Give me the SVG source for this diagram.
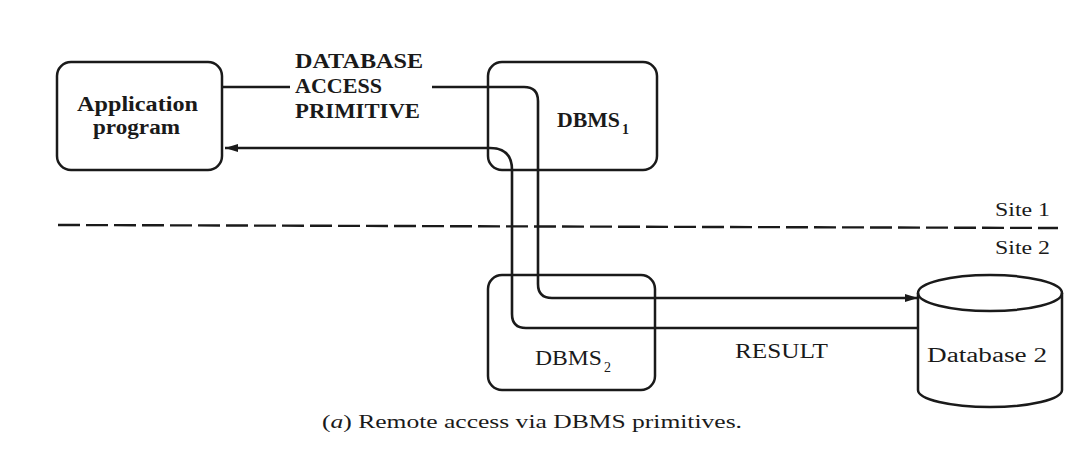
<svg xmlns="http://www.w3.org/2000/svg" width="1092" height="458" viewBox="0 0 1092 458">
  <style>
    .box { fill: none; stroke: #1a1a1a; stroke-width: 2.5; }
    .wire { fill: none; stroke: #1a1a1a; stroke-width: 2.6; stroke-linejoin: round; }
    .lbl { font-family: "Liberation Serif", "DejaVu Serif", serif; fill: #1a1a1a; }
    .bold { font-weight: bold; }
    .site { fill: none; stroke: #1a1a1a; stroke-width: 2.4; stroke-dasharray: 22 6; }
  </style>
  <defs>
    <marker id="arrow" markerUnits="userSpaceOnUse" markerWidth="14" markerHeight="10" refX="13" refY="5" orient="auto">
      <path d="M0,1 L13,5 L0,9 z" fill="#1a1a1a"/>
    </marker>
  </defs>
  <rect width="1092" height="458" fill="#ffffff"/>

  <!-- site boundary -->
  <g id="site-boundary">
    <path class="site" d="M58,225 L1058,228"/>
    <text class="lbl" x="995" y="216" font-size="19" textLength="55" lengthAdjust="spacingAndGlyphs">Site 1</text>
    <text class="lbl" x="995" y="254" font-size="19" textLength="55" lengthAdjust="spacingAndGlyphs">Site 2</text>
  </g>

  <!-- application program -->
  <g id="app">
    <rect class="box" x="57" y="62" width="165" height="108" rx="14"/>
    <text class="lbl bold" x="77" y="111" font-size="20" textLength="121" lengthAdjust="spacingAndGlyphs">Application</text>
    <text class="lbl bold" x="93" y="134" font-size="20" textLength="87" lengthAdjust="spacingAndGlyphs">program</text>
  </g>

  <!-- DBMS at site 1 -->
  <g id="dbms1">
    <rect class="box" x="488" y="62" width="169" height="108" rx="14"/>
    <text class="lbl bold" x="557" y="127" font-size="22" textLength="63" lengthAdjust="spacingAndGlyphs">DBMS</text>
    <text class="lbl bold" x="622" y="134" font-size="14">1</text>
  </g>

  <!-- DBMS at site 2 -->
  <g id="dbms2">
    <rect class="box" x="488" y="275" width="167" height="115" rx="14"/>
    <text class="lbl" x="535" y="365" font-size="22" textLength="67" lengthAdjust="spacingAndGlyphs">DBMS</text>
    <text class="lbl" x="604" y="372" font-size="14">2</text>
  </g>

  <!-- database at site 2 -->
  <g id="database2">
    <path class="box" d="M918,293 V390 A72,17 0 0 0 1062,390 V293"/>
    <ellipse class="box" cx="990" cy="293" rx="72" ry="18"/>
    <text class="lbl" x="927" y="362" font-size="20" textLength="120" lengthAdjust="spacingAndGlyphs">Database 2</text>
  </g>

  <!-- request and result paths -->
  <g id="connectors">
    <path class="wire" d="M222,87 H290"/>
    <path class="wire" d="M432,87 H524 Q538,87 538,101 V284 Q538,298 552,298 H918" marker-end="url(#arrow)"/>
    <path class="wire" d="M918,328 H526 Q512,328 512,314 V170 Q512,148 490,148 H225" marker-end="url(#arrow)"/>
  </g>

  <!-- path labels -->
  <g id="labels">
    <text class="lbl bold" x="295" y="68" font-size="20" textLength="128" lengthAdjust="spacingAndGlyphs">DATABASE</text>
    <text class="lbl bold" x="295" y="93" font-size="20" textLength="87" lengthAdjust="spacingAndGlyphs">ACCESS</text>
    <text class="lbl bold" x="295" y="118" font-size="20" textLength="125" lengthAdjust="spacingAndGlyphs">PRIMITIVE</text>
    <text class="lbl" x="735" y="358" font-size="21" textLength="93" lengthAdjust="spacingAndGlyphs">RESULT</text>
  </g>

  <!-- caption -->
  <text class="lbl" x="322" y="428" font-size="19" textLength="420" lengthAdjust="spacingAndGlyphs">(<tspan font-style="italic">a</tspan>)  Remote access via DBMS primitives.</text>
</svg>
